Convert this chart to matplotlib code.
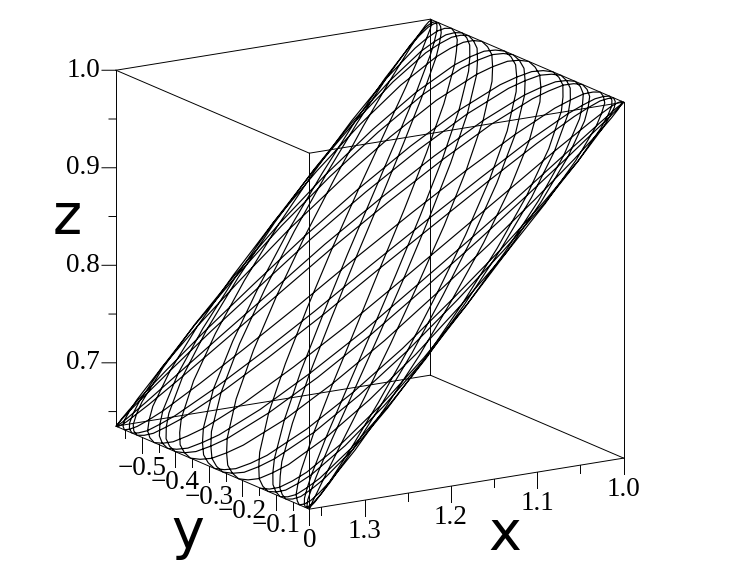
"""Space curve in a plane, boxed 3D view (values estimated from the picture)."""
import matplotlib
matplotlib.use("Agg")
import matplotlib.pyplot as plt

X_LIM = (1.0, 1.364)
Y_LIM = (-0.577, 0.0)
Z_LIM = (0.635, 1.0)

X_TICKS = [1.0, 1.1, 1.2, 1.3]
X_MINOR = [1.05, 1.15, 1.25, 1.35]
Y_TICKS = [-0.5, -0.4, -0.3, -0.2, -0.1, 0.0]
Y_MINOR = [-0.55, -0.45, -0.35, -0.25, -0.15, -0.05]
Z_TICKS = [0.7, 0.8, 0.9, 1.0]
Z_MINOR = [0.65, 0.75, 0.85, 0.95]
X_TICK_LABELS = ["1.0", "1.1", "1.2", "1.3"]
Y_TICK_LABELS = ["\u22120.5", "\u22120.4", "\u22120.3", "\u22120.2", "\u22120.1", "0"]
Z_TICK_LABELS = ["0.7", "0.8", "0.9", "1.0"]

# the curve, point by point; an estimated trace, the strands are too dense to read exactly
curve_x = [
    1.364,1.362,1.358,1.350,1.340,1.311,1.273,1.229,1.182,1.135,1.091,1.053,1.024,1.014,1.006,1.002,1.000,1.002,1.006,1.014,1.024,1.053,1.091,1.135,1.182,1.229,1.273,1.311,1.340,1.350,1.358,1.362,
    1.364,1.362,1.358,1.350,1.340,1.311,1.273,1.229,1.182,1.135,1.091,1.053,1.024,1.014,1.006,1.002,1.000,1.002,1.006,1.014,1.024,1.053,1.091,1.135,1.182,1.229,1.273,1.311,1.340,1.350,1.358,1.362,
    1.364,1.362,1.358,1.350,1.340,1.311,1.273,1.229,1.182,1.135,1.091,1.053,1.024,1.014,1.006,1.002,1.000,1.002,1.006,1.014,1.024,1.053,1.091,1.135,1.182,1.229,1.273,1.311,1.340,1.350,1.358,1.362,
    1.364,1.362,1.358,1.350,1.340,1.311,1.273,1.229,1.182,1.135,1.091,1.053,1.024,1.014,1.006,1.002,1.000,1.002,1.006,1.014,1.024,1.053,1.091,1.135,1.182,1.229,1.273,1.311,1.340,1.350,1.358,1.362,
    1.364,1.362,1.358,1.350,1.340,1.311,1.273,1.229,1.182,1.135,1.091,1.053,1.024,1.014,1.006,1.002,1.000,1.002,1.006,1.014,1.024,1.053,1.091,1.135,1.182,1.229,1.273,1.311,1.340,1.350,1.358,1.362,
    1.364,1.362,1.358,1.350,1.340,1.311,1.273,1.229,1.182,1.135,1.091,1.053,1.024,1.014,1.006,1.002,1.000,1.002,1.006,1.014,1.024,1.053,1.091,1.135,1.182,1.229,1.273,1.311,1.340,1.350,1.358,1.362,
    1.364,1.362,1.358,1.350,1.340,1.311,1.273,1.229,1.182,1.135,1.091,1.053,1.024,1.014,1.006,1.002,1.000,1.002,1.006,1.014,1.024,1.053,1.091,1.135,1.182,1.229,1.273,1.311,1.340,1.350,1.358,1.362,
    1.364,1.362,1.358,1.350,1.340,1.311,1.273,1.229,1.182,1.135,1.091,1.053,1.024,1.014,1.006,1.002,1.000,1.002,1.006,1.014,1.024,1.053,1.091,1.135,1.182,1.229,1.273,1.311,1.340,1.350,1.358,1.362,
    1.364,1.362,1.358,1.350,1.340,1.311,1.273,1.229,1.182,1.135,1.091,1.053,1.024,1.014,1.006,1.002,1.000,1.002,1.006,1.014,1.024,1.053,1.091,1.135,1.182,1.229,1.273,1.311,1.340,1.350,1.358,1.362,
    1.364,1.362,1.358,1.350,1.340,1.311,1.273,1.229,1.182,1.135,1.091,1.053,1.024,1.014,1.006,1.002,1.000,1.002,1.006,1.014,1.024,1.053,1.091,1.135,1.182,1.229,1.273,1.311,1.340,1.350,1.358,1.362,
    1.364,1.362,1.358,1.350,1.340,1.311,1.273,1.229,1.182,1.135,1.091,1.053,1.024,1.014,1.006,1.002,1.000,1.002,1.006,1.014,1.024,1.053,1.091,1.135,1.182,1.229,1.273,1.311,1.340,1.350,1.358,1.362,
    1.364,1.362,1.358,1.350,1.340,1.311,1.273,1.229,1.182,1.135,1.091,1.053,1.024,1.014,1.006,1.002,1.000,1.002,1.006,1.014,1.024,1.053,1.091,1.135,1.182,1.229,1.273,1.311,1.340,1.350,1.358,1.362,
    1.364,1.362,1.358,1.350,1.340,1.311,1.273,1.229,1.182,1.135,1.091,1.053,1.024,1.014,1.006,1.002,1.000,1.002,1.006,1.014,1.024,1.053,1.091,1.135,1.182,1.229,1.273,1.311,1.340,1.350,1.358,1.362,
    1.364,1.362,1.358,1.350,1.340,1.311,1.273,1.229,1.182,1.135,1.091,1.053,1.024,1.014,1.006,1.002,1.000,1.002,1.006,1.014,1.024,1.053,1.091,1.135,1.182,1.229,1.273,1.311,1.340,1.350,1.358,1.362,
    1.364,1.362,1.358,1.350,1.340,1.311,1.273,1.229,1.182,1.135,1.091,1.053,1.024,1.014,1.006,1.002,1.000,1.002,1.006,1.014,1.024,1.053,1.091,1.135,1.182,1.229,1.273,1.311,1.340,1.350,1.358,1.362,
    1.364,1.362,1.358,1.350,1.340,1.311,1.273,1.229,1.182,1.135,1.091,1.053,1.024,1.014,1.006,1.002,1.000,1.002,1.006,1.014,1.024,1.053,1.091,1.135,1.182,1.229,1.273,1.311,1.340,1.350,1.358,1.362,
    1.364,1.362,1.358,1.350,1.340,1.311,1.273,1.229,1.182,1.135,1.091,1.053,1.024,1.014,1.006,1.002,1.000,1.002,1.006,1.014,1.024,1.053,1.091,1.135,1.182,1.229,1.273,1.311,1.340,1.350,1.358,1.362,
    1.364,1.362,1.358,1.350,1.340,1.311,1.273,1.229,1.182,1.135,1.091,1.053,1.024,1.014,1.006,1.002,1.000,1.002,1.006,1.014,1.024,1.053,1.091,1.135,1.182,1.229,1.273,1.311,1.340,1.350,1.358,1.362,
    1.364,1.362,1.358,1.350,1.340,1.311,1.273,1.229,1.182,1.135,1.091,1.053,1.024,1.014,1.006,1.002,1.000,1.002,1.006,1.014,1.024,1.053,1.091,1.135,1.182,1.229,1.273,1.311,1.340,1.350,1.358,1.362,
    1.364,
]
curve_y = [
    -.000,-.002,-.006,-.012,-.020,-.042,-.070,-.105,-.145,-.188,-.235,-.283,-.331,-.355,-.378,-.401,-.423,-.444,-.463,-.482,-.499,-.529,-.552,-.568,-.576,-.576,-.568,-.552,-.529,-.514,-.498,-.481,
    -.463,-.443,-.422,-.400,-.377,-.330,-.282,-.234,-.187,-.144,-.104,-.070,-.041,-.030,-.020,-.012,-.006,-.002,-.000,-.000,-.002,-.012,-.030,-.055,-.087,-.124,-.166,-.211,-.259,-.283,-.307,-.331,
    -.355,-.378,-.401,-.423,-.444,-.482,-.515,-.542,-.561,-.573,-.577,-.573,-.561,-.552,-.541,-.529,-.514,-.498,-.481,-.463,-.443,-.400,-.354,-.306,-.258,-.210,-.165,-.123,-.086,-.070,-.055,-.041,
    -.030,-.020,-.012,-.006,-.002,-.000,-.006,-.020,-.042,-.070,-.105,-.145,-.188,-.211,-.235,-.259,-.283,-.307,-.331,-.355,-.378,-.423,-.463,-.499,-.529,-.552,-.568,-.576,-.576,-.573,-.568,-.561,
    -.552,-.541,-.529,-.514,-.498,-.463,-.422,-.377,-.330,-.282,-.234,-.187,-.144,-.123,-.104,-.086,-.070,-.055,-.041,-.030,-.020,-.006,-.000,-.002,-.012,-.030,-.055,-.087,-.124,-.145,-.166,-.188,
    -.211,-.235,-.259,-.283,-.307,-.355,-.401,-.444,-.482,-.515,-.542,-.561,-.573,-.576,-.577,-.576,-.573,-.568,-.561,-.552,-.541,-.514,-.481,-.443,-.400,-.354,-.306,-.258,-.210,-.187,-.165,-.144,
    -.123,-.104,-.086,-.070,-.055,-.030,-.012,-.002,-.000,-.006,-.020,-.042,-.070,-.087,-.105,-.124,-.145,-.166,-.188,-.211,-.235,-.283,-.331,-.378,-.423,-.463,-.499,-.529,-.552,-.561,-.568,-.573,
    -.576,-.577,-.576,-.573,-.568,-.552,-.529,-.498,-.463,-.422,-.377,-.330,-.282,-.258,-.234,-.210,-.187,-.165,-.144,-.123,-.104,-.070,-.041,-.020,-.006,-.000,-.002,-.012,-.030,-.042,-.055,-.070,
    -.087,-.105,-.124,-.145,-.166,-.211,-.259,-.307,-.355,-.401,-.444,-.482,-.515,-.529,-.542,-.552,-.561,-.568,-.573,-.576,-.577,-.573,-.561,-.541,-.514,-.481,-.443,-.400,-.354,-.330,-.306,-.282,
    -.258,-.234,-.210,-.187,-.165,-.123,-.086,-.055,-.030,-.012,-.002,-.000,-.006,-.012,-.020,-.030,-.042,-.055,-.070,-.087,-.105,-.145,-.188,-.235,-.283,-.331,-.378,-.423,-.463,-.482,-.499,-.515,
    -.529,-.542,-.552,-.561,-.568,-.576,-.576,-.568,-.552,-.529,-.498,-.463,-.422,-.400,-.377,-.354,-.330,-.306,-.282,-.258,-.234,-.187,-.144,-.104,-.070,-.041,-.020,-.006,-.000,-.000,-.002,-.006,
    -.012,-.020,-.030,-.042,-.055,-.087,-.124,-.166,-.211,-.259,-.307,-.355,-.401,-.423,-.444,-.463,-.482,-.499,-.515,-.529,-.542,-.561,-.573,-.577,-.573,-.561,-.541,-.514,-.481,-.463,-.443,-.422,
    -.400,-.377,-.354,-.330,-.306,-.258,-.210,-.165,-.123,-.086,-.055,-.030,-.012,-.006,-.002,-.000,-.000,-.002,-.006,-.012,-.020,-.042,-.070,-.105,-.145,-.188,-.235,-.283,-.331,-.355,-.378,-.401,
    -.423,-.444,-.463,-.482,-.499,-.529,-.552,-.568,-.576,-.576,-.568,-.552,-.529,-.514,-.498,-.481,-.463,-.443,-.422,-.400,-.377,-.330,-.282,-.234,-.187,-.144,-.104,-.070,-.041,-.030,-.020,-.012,
    -.006,-.002,-.000,-.000,-.002,-.012,-.030,-.055,-.087,-.124,-.166,-.211,-.259,-.283,-.307,-.331,-.355,-.378,-.401,-.423,-.444,-.482,-.515,-.542,-.561,-.573,-.577,-.573,-.561,-.552,-.541,-.529,
    -.514,-.498,-.481,-.463,-.443,-.400,-.354,-.306,-.258,-.210,-.165,-.123,-.086,-.070,-.055,-.041,-.030,-.020,-.012,-.006,-.002,-.000,-.006,-.020,-.042,-.070,-.105,-.145,-.188,-.211,-.235,-.259,
    -.283,-.307,-.331,-.355,-.378,-.423,-.463,-.499,-.529,-.552,-.568,-.576,-.576,-.573,-.568,-.561,-.552,-.541,-.529,-.514,-.498,-.463,-.422,-.377,-.330,-.282,-.234,-.187,-.144,-.123,-.104,-.086,
    -.070,-.055,-.041,-.030,-.020,-.006,-.000,-.002,-.012,-.030,-.055,-.087,-.124,-.145,-.166,-.188,-.211,-.235,-.259,-.283,-.307,-.355,-.401,-.444,-.482,-.515,-.542,-.561,-.573,-.576,-.577,-.576,
    -.573,-.568,-.561,-.552,-.541,-.514,-.481,-.443,-.400,-.354,-.306,-.258,-.210,-.187,-.165,-.144,-.123,-.104,-.086,-.070,-.055,-.030,-.012,-.002,-.000,-.006,-.020,-.042,-.070,-.087,-.105,-.124,
    -.145,
]
curve_z = [
    .635,.637,.641,.649,.659,.688,.726,.770,.818,.865,.909,.947,.976,.986,.994,.998,1.000,.998,.994,.986,.976,.947,.909,.865,.818,.770,.726,.688,.659,.649,.641,.637,
    .635,.637,.641,.649,.659,.688,.726,.770,.818,.865,.909,.947,.976,.986,.994,.998,1.000,.998,.994,.986,.976,.947,.909,.865,.818,.770,.726,.688,.659,.649,.641,.637,
    .635,.637,.641,.649,.659,.688,.726,.770,.818,.865,.909,.947,.976,.986,.994,.998,1.000,.998,.994,.986,.976,.947,.909,.865,.818,.770,.726,.688,.659,.649,.641,.637,
    .635,.637,.641,.649,.659,.688,.726,.770,.818,.865,.909,.947,.976,.986,.994,.998,1.000,.998,.994,.986,.976,.947,.909,.865,.818,.770,.726,.688,.659,.649,.641,.637,
    .635,.637,.641,.649,.659,.688,.726,.770,.818,.865,.909,.947,.976,.986,.994,.998,1.000,.998,.994,.986,.976,.947,.909,.865,.818,.770,.726,.688,.659,.649,.641,.637,
    .635,.637,.641,.649,.659,.688,.726,.770,.818,.865,.909,.947,.976,.986,.994,.998,1.000,.998,.994,.986,.976,.947,.909,.865,.818,.770,.726,.688,.659,.649,.641,.637,
    .635,.637,.641,.649,.659,.688,.726,.770,.818,.865,.909,.947,.976,.986,.994,.998,1.000,.998,.994,.986,.976,.947,.909,.865,.818,.770,.726,.688,.659,.649,.641,.637,
    .635,.637,.641,.649,.659,.688,.726,.770,.818,.865,.909,.947,.976,.986,.994,.998,1.000,.998,.994,.986,.976,.947,.909,.865,.818,.770,.726,.688,.659,.649,.641,.637,
    .635,.637,.641,.649,.659,.688,.726,.770,.818,.865,.909,.947,.976,.986,.994,.998,1.000,.998,.994,.986,.976,.947,.909,.865,.818,.770,.726,.688,.659,.649,.641,.637,
    .635,.637,.641,.649,.659,.688,.726,.770,.818,.865,.909,.947,.976,.986,.994,.998,1.000,.998,.994,.986,.976,.947,.909,.865,.818,.770,.726,.688,.659,.649,.641,.637,
    .635,.637,.641,.649,.659,.688,.726,.770,.818,.865,.909,.947,.976,.986,.994,.998,1.000,.998,.994,.986,.976,.947,.909,.865,.818,.770,.726,.688,.659,.649,.641,.637,
    .635,.637,.641,.649,.659,.688,.726,.770,.818,.865,.909,.947,.976,.986,.994,.998,1.000,.998,.994,.986,.976,.947,.909,.865,.818,.770,.726,.688,.659,.649,.641,.637,
    .635,.637,.641,.649,.659,.688,.726,.770,.818,.865,.909,.947,.976,.986,.994,.998,1.000,.998,.994,.986,.976,.947,.909,.865,.818,.770,.726,.688,.659,.649,.641,.637,
    .635,.637,.641,.649,.659,.688,.726,.770,.818,.865,.909,.947,.976,.986,.994,.998,1.000,.998,.994,.986,.976,.947,.909,.865,.818,.770,.726,.688,.659,.649,.641,.637,
    .635,.637,.641,.649,.659,.688,.726,.770,.818,.865,.909,.947,.976,.986,.994,.998,1.000,.998,.994,.986,.976,.947,.909,.865,.818,.770,.726,.688,.659,.649,.641,.637,
    .635,.637,.641,.649,.659,.688,.726,.770,.818,.865,.909,.947,.976,.986,.994,.998,1.000,.998,.994,.986,.976,.947,.909,.865,.818,.770,.726,.688,.659,.649,.641,.637,
    .635,.637,.641,.649,.659,.688,.726,.770,.818,.865,.909,.947,.976,.986,.994,.998,1.000,.998,.994,.986,.976,.947,.909,.865,.818,.770,.726,.688,.659,.649,.641,.637,
    .635,.637,.641,.649,.659,.688,.726,.770,.818,.865,.909,.947,.976,.986,.994,.998,1.000,.998,.994,.986,.976,.947,.909,.865,.818,.770,.726,.688,.659,.649,.641,.637,
    .635,.637,.641,.649,.659,.688,.726,.770,.818,.865,.909,.947,.976,.986,.994,.998,1.000,.998,.994,.986,.976,.947,.909,.865,.818,.770,.726,.688,.659,.649,.641,.637,
    .635,
]

fig = plt.figure(figsize=(7.31, 5.79), dpi=100, facecolor="white")
ax = fig.add_axes([-3.5 / 731, 17.5 / 579, 1, 1], projection="3d", proj_type="ortho")
ax.set_box_aspect((1, 1, 1), zoom=1.0717)
ax.view_init(elev=15.3, azim=58.4)
ax.set_xlim(*X_LIM, view_margin=0)
ax.set_ylim(*Y_LIM, view_margin=0)
ax.set_zlim(*Z_LIM, view_margin=0)
ax.set_axis_off()

BOX = dict(color="black", lw=0.7)
x0, x1 = X_LIM
y0, y1 = Y_LIM
z0, z1 = Z_LIM

# the twelve box edges
for y in Y_LIM:
    for z in Z_LIM:
        ax.plot(X_LIM, [y, y], [z, z], **BOX)
for x in X_LIM:
    for z in Z_LIM:
        ax.plot([x, x], Y_LIM, [z, z], **BOX)
for x in X_LIM:
    for y in Y_LIM:
        ax.plot([x, x], [y, y], Z_LIM, **BOX)

ax.plot(curve_x, curve_y, curve_z, color="black", lw=0.85)

# ticks hang straight down on the x and y axes
MAJOR = 0.016
MINOR = 0.008
for t in X_TICKS:
    ax.plot([t, t], [y1, y1], [z0, z0 - MAJOR], **BOX)
for t in X_MINOR:
    ax.plot([t, t], [y1, y1], [z0, z0 - MINOR], **BOX)
for t in Y_TICKS:
    ax.plot([x1, x1], [t, t], [z0, z0 - MAJOR], **BOX)
for t in Y_MINOR:
    ax.plot([x1, x1], [t, t], [z0, z0 - MINOR], **BOX)

# z ticks point left on screen: +x and -y together keep the screen height
for t in Z_TICKS:
    ax.plot([x1, x1 + 0.0118], [y0, y0 - 0.0114], [t, t], **BOX)
for t in Z_MINOR:
    ax.plot([x1, x1 + 0.0059], [y0, y0 - 0.0057], [t, t], **BOX)

TICK_FONT = dict(family="Liberation Serif", fontsize=19.5, color="black")
for t, lab in zip(X_TICKS, X_TICK_LABELS):
    ax.text(t, y1, z0 - 0.032, lab, ha="center", va="center", **TICK_FONT)
for t, lab in zip(Y_TICKS, Y_TICK_LABELS):
    ax.text(x1, t, z0 - 0.032, lab, ha="center", va="center", **TICK_FONT)
for t, lab in zip(Z_TICKS, Z_TICK_LABELS):
    ax.text(x1 + 0.0135, y0 - 0.013, t, lab, ha="right", va="center", **TICK_FONT)

LABEL_FONT = dict(family="DejaVu Sans", fontsize=40, color="black", ha="center", va="center")
fig.text(505 / 731, 1 - 535 / 579, "x", **LABEL_FONT)
fig.text(188 / 731, 1 - 533 / 579, "y", **LABEL_FONT)
fig.text(67 / 731, 1 - 218 / 579, "z", **LABEL_FONT)

fig.savefig("out.png", dpi=100)
